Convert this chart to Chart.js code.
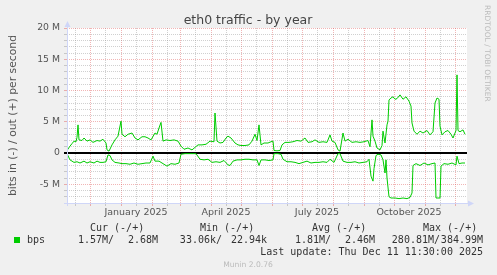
<!DOCTYPE html>
<html>
<head>
<meta charset="utf-8">
<title>eth0 traffic - by year</title>
<script src="https://cdn.jsdelivr.net/npm/chart.js@4.4.1/dist/chart.umd.min.js"></script>
<style>
  html, body { margin: 0; padding: 0; background: #f0f0f0; }
  canvas { display: block; }
</style>
</head>
<body>
<canvas id="trafficCanvas" width="497" height="275"></canvas>
<script>
// days counted from 2024-11-08 (left edge of the year graph), values in Mbit/s
const outDays = [0,3,5,7,9,10,11,12,15,17,20,23,26,30,33,36,39,40,42,45,48,51,54,55,58,61,65,68,71,75,78,81,84,88,90,92,94,96,99,103,107,111,114,117,121,125,128,131,135,139,143,147,148,150,153,156,159,161,164,168,171,174,178,182,185,188,190,192,194,197,201,204,206,207,210,213,215,218,222,226,230,234,238,241,245,248,252,256,260,263,265,268,271,273,276,278,281,285,289,293,297,301,303,305,306,308,310,313,315,316,318,320,321,322,324,326,328,330,333,336,339,342,344,345,347,350,353,356,360,363,366,368,370,372,373,375,378,381,384,386,389,390,391,393,396,398];
const outMbps = [0.4,1.1,1.5,1.9,1.8,2.5,4.5,2.1,2.0,2.4,1.9,2.1,1.7,2.0,1.9,2.2,1.6,0.5,0.3,1.3,2.1,2.7,5.1,3.0,2.6,3.0,3.2,2.4,2.1,2.6,2.6,2.4,2.1,3.2,3.0,4.0,4.9,1.9,2.1,2.0,2.1,1.9,1.1,0.6,0.8,0.5,0.9,1.3,1.3,1.4,1.9,1.8,6.4,1.9,1.6,1.7,2.4,2.7,2.4,1.6,1.3,1.2,1.2,1.3,1.9,3.0,2.0,4.5,1.3,1.6,1.6,1.8,1.9,0.4,0.35,0.4,1.3,1.7,1.7,1.8,2.0,1.9,2.4,1.7,1.8,2.1,1.7,1.8,1.7,2.9,1.9,1.7,0.5,0.3,3.2,1.9,2.2,1.7,1.8,1.7,1.8,2.0,1.0,5.3,2.7,1.9,0.8,0.5,1.2,3.5,1.6,4.5,5.1,8.5,8.8,9.0,8.6,8.7,9.3,8.6,9.0,8.3,7.5,4.8,3.5,3.0,3.5,3.2,3.6,2.9,3.4,8.0,8.8,8.6,4.3,2.9,3.4,3.6,3.0,2.4,3.6,12.5,3.6,3.4,3.7,3.0];
const inDays = [0,3,5,7,10,13,17,20,23,27,30,33,36,39,41,43,45,48,52,55,59,63,67,71,75,79,83,86,88,92,96,100,104,108,112,114,118,122,126,129,133,137,141,145,149,153,157,161,163,166,170,174,178,182,186,190,192,194,198,202,206,207,211,214,216,220,224,228,232,236,240,244,248,252,256,260,263,267,271,273,276,280,284,288,292,296,300,302,304,306,307,309,311,314,316,318,319,320,322,324,328,332,336,340,343,345,346,349,353,357,361,365,368,369,373,374,377,381,385,389,390,392,395,398];
const inMbps = [-0.1,-1.1,-1.3,-1.5,-1.4,-1.6,-1.3,-1.6,-1.4,-1.6,-1.3,-1.5,-1.5,-1.4,-0.3,-0.4,-1.1,-1.5,-1.6,-1.7,-1.7,-1.8,-1.6,-1.8,-1.7,-1.6,-1.6,-0.5,-1.3,-1.3,-1.7,-2.1,-1.7,-1.8,-1.6,-0.2,-0.1,-0.1,-0.1,-0.1,-1.0,-1.1,-1.0,-1.5,-1.4,-1.5,-1.2,-1.9,-2.0,-1.3,-1.1,-1.1,-1.0,-1.0,-1.1,-1.1,-2.0,-1.1,-1.1,-1.2,-1.1,-0.1,-0.1,-0.2,-1.0,-1.4,-1.4,-1.5,-1.7,-1.5,-1.3,-1.6,-1.5,-1.5,-1.4,-1.5,-1.0,-1.5,-0.1,-0.1,-1.3,-1.5,-1.5,-1.4,-1.6,-1.5,-1.4,-1.0,-3.7,-4.5,-2.5,-0.4,-0.2,-0.3,-1.1,-3.2,-1.1,-4.0,-7.0,-7.2,-7.2,-7.3,-7.2,-7.3,-7.1,-6.4,-2.0,-1.7,-2.0,-1.6,-1.9,-1.7,-1.6,-7.2,-7.2,-2.1,-1.7,-1.8,-1.6,-1.9,-0.5,-1.7,-1.6,-1.6];

// x grid: month starts (red) and mid-month (grey, carries the labels)
const monthStartDays = [23,54,85,113,144,174,205,235,266,297,327,358,388];
const midMonthDays = [8,38,69,100,128,159,189,220,250,281,312,342,373];
const midMonthLabels = ['','','January 2025','','','April 2025','','','July 2025','','','October 2025',''];

// y axis (Mbit/s)
const yMin = -8, yMax = 20;
const yTickValues = [20,15,10,5,0,-5];
const yTickLabels = ['20 M','15 M','10 M','5 M','0','-5 M'];

// legend
const statHeaders = ['Cur (-/+)','Min (-/+)','Avg (-/+)','Max (-/+)'];
const statIn = ['1.57M/','33.06k/','1.81M/','280.81M/'];
const statOut = ['2.68M','22.94k','2.46M','384.99M'];

const GREEN = '#00cc00';
const MGRID = 'rgba(222,79,79,0.42)';
const GRID = 'rgba(143,143,143,0.42)';
const AXIS = '#cfd6f8';

const muninDeco = {
    id: 'muninDeco',
    beforeDraw(chart) {
        const c = chart.ctx, a = chart.chartArea;
        c.save();
        c.fillStyle = '#f0f0f0';
        c.fillRect(0, 0, chart.width, chart.height);
        c.fillStyle = '#ffffff';
        c.fillRect(a.left, a.top, a.right - a.left, a.bottom - a.top);
        c.restore();
    },
    afterDatasetsDraw(chart) {
        const c = chart.ctx, a = chart.chartArea;
        c.save();
        c.strokeStyle = AXIS;
        c.fillStyle = AXIS;
        c.lineWidth = 1;
        c.beginPath();
        c.moveTo(a.left - 3, a.bottom + 0.5);
        c.lineTo(a.right + 2, a.bottom + 0.5);
        c.moveTo(a.left + 0.5, a.bottom + 3);
        c.lineTo(a.left + 0.5, a.top - 2);
        c.stroke();
        // arrows
        c.beginPath();
        c.moveTo(a.right + 1, a.bottom - 2.5);
        c.lineTo(a.right + 7, a.bottom + 0.5);
        c.lineTo(a.right + 1, a.bottom + 3.5);
        c.closePath();
        c.fill();
        c.beginPath();
        c.moveTo(a.left - 2.5, a.top - 1);
        c.lineTo(a.left + 0.5, a.top - 7);
        c.lineTo(a.left + 3.5, a.top - 1);
        c.closePath();
        c.fill();
        c.restore();
    },
    afterDraw(chart) {
        const c = chart.ctx;
        c.save();
        // title
        c.fillStyle = '#444';
        c.font = '12.5px "DejaVu Sans"';
        c.textAlign = 'center';
        c.textBaseline = 'alphabetic';
        c.fillText('eth0 traffic - by year', 248, 24);
        // y label
        c.save();
        c.translate(15.5, 115.5);
        c.rotate(-Math.PI / 2);
        c.fillStyle = '#555';
        c.font = '10.8px "DejaVu Sans"';
        c.fillText('bits in (-) / out (+) per second', 0, 0);
        c.restore();
        // watermark
        c.save();
        c.translate(485, 5);
        c.rotate(Math.PI / 2);
        c.textAlign = 'left';
        c.fillStyle = '#bbbbbb';
        c.font = '7.5px "DejaVu Sans"';
        c.fillText('RRDTOOL / TOBI OETIKER', 0, 0);
        c.restore();
        // legend
        c.font = '10px "DejaVu Sans Mono"';
        c.fillStyle = '#333';
        c.textAlign = 'left';
        const headX = [90, 200, 312, 423];
        const inRight = [114, 222, 331, 440];
        const outRight = [158, 267, 375, 483];
        statHeaders.forEach((h, i) => c.fillText(h, headX[i], 230.5));
        c.fillText('bps', 27, 243);
        c.textAlign = 'right';
        statIn.forEach((s, i) => c.fillText(s, inRight[i], 243));
        statOut.forEach((s, i) => c.fillText(s, outRight[i], 243));
        c.fillText('Last update: Thu Dec 11 11:30:00 2025', 483, 255);
        c.fillStyle = GREEN;
        c.fillRect(14, 237, 6, 6);
        // version
        c.textAlign = 'center';
        c.fillStyle = '#bbbbbb';
        c.font = '7.6px "DejaVu Sans"';
        c.fillText('Munin 2.0.76', 248, 266.5);
        c.restore();
    }
};

const ctx = document.getElementById('trafficCanvas').getContext('2d');
new Chart(ctx, {
    type: 'line',
    data: {
        datasets: [
            {
                label: 'in',
                data: inDays.map((d, i) => ({x: d, y: inMbps[i] * 1e6})),
                borderColor: GREEN,
                borderWidth: 1,
                pointRadius: 0,
                tension: 0,
                fill: false
            },
            {
                label: 'out',
                data: outDays.map((d, i) => ({x: d, y: outMbps[i] * 1e6})),
                borderColor: GREEN,
                borderWidth: 1,
                pointRadius: 0,
                tension: 0,
                fill: false
            }
        ]
    },
    options: {
        responsive: false,
        animation: false,
        devicePixelRatio: 1,
        layout: { padding: { left: 0, top: 28, right: 30, bottom: 52 } },
        plugins: { legend: { display: false }, title: { display: false }, tooltip: { enabled: false } },
        scales: {
            x: {
                type: 'linear',
                min: 0,
                max: 400,
                afterBuildTicks(scale) {
                    const t = monthStartDays.map(d => ({value: d, monthStart: true, text: ''}))
                        .concat(midMonthDays.map((d, i) => ({value: d, monthStart: false, text: midMonthLabels[i]})));
                    t.sort((p, q) => p.value - q.value);
                    scale.ticks = t;
                },
                afterFit(scale) { scale.height = 20; },
                grid: {
                    color: (c) => (c.tick && c.tick.monthStart) ? MGRID : GRID,
                    tickColor: (c) => (c.tick && c.tick.monthStart) ? MGRID : GRID,
                    tickLength: 3,
                    lineWidth: 1
                },
                border: { display: false, dash: () => [1, 1], dashOffset: 0 },
                ticks: {
                    autoSkip: false,
                    maxRotation: 0,
                    minRotation: 0,
                    padding: 1,
                    color: '#555',
                    font: { family: 'DejaVu Sans', size: 9.5 },
                    callback: (v, i, ticks) => ticks[i].text
                }
            },
            y: {
                type: 'linear',
                min: yMin * 1e6,
                max: yMax * 1e6,
                afterBuildTicks(scale) {
                    const t = [];
                    for (let m = yMin; m <= yMax; m++) t.push({value: m * 1e6});
                    scale.ticks = t;
                },
                afterFit(scale) { scale.width = 67; },
                grid: {
                    color: (c) => {
                        const m = Math.round(c.tick.value / 1e6);
                        if (m === 0) return '#000000';
                        return m % 5 === 0 ? MGRID : GRID;
                    },
                    tickColor: (c) => {
                        const m = Math.round(c.tick.value / 1e6);
                        if (m === 0) return '#000000';
                        return m % 5 === 0 ? MGRID : GRID;
                    },
                    lineWidth: (c) => Math.round(c.tick.value / 1e6) === 0 ? 2 : 1,
                    tickLength: 3
                },
                border: {
                    display: false,
                    dash: (c) => (c.tick && Math.round(c.tick.value / 1e6) === 0) ? [] : [1, 1]
                },
                ticks: {
                    autoSkip: false,
                    padding: 4,
                    color: '#555',
                    font: { family: 'DejaVu Sans', size: 9.3 },
                    callback: (v) => {
                        const k = yTickValues.indexOf(Math.round(v / 1e6));
                        return k >= 0 ? yTickLabels[k] : '';
                    }
                }
            }
        }
    },
    plugins: [muninDeco]
});
</script>
</body>
</html>
